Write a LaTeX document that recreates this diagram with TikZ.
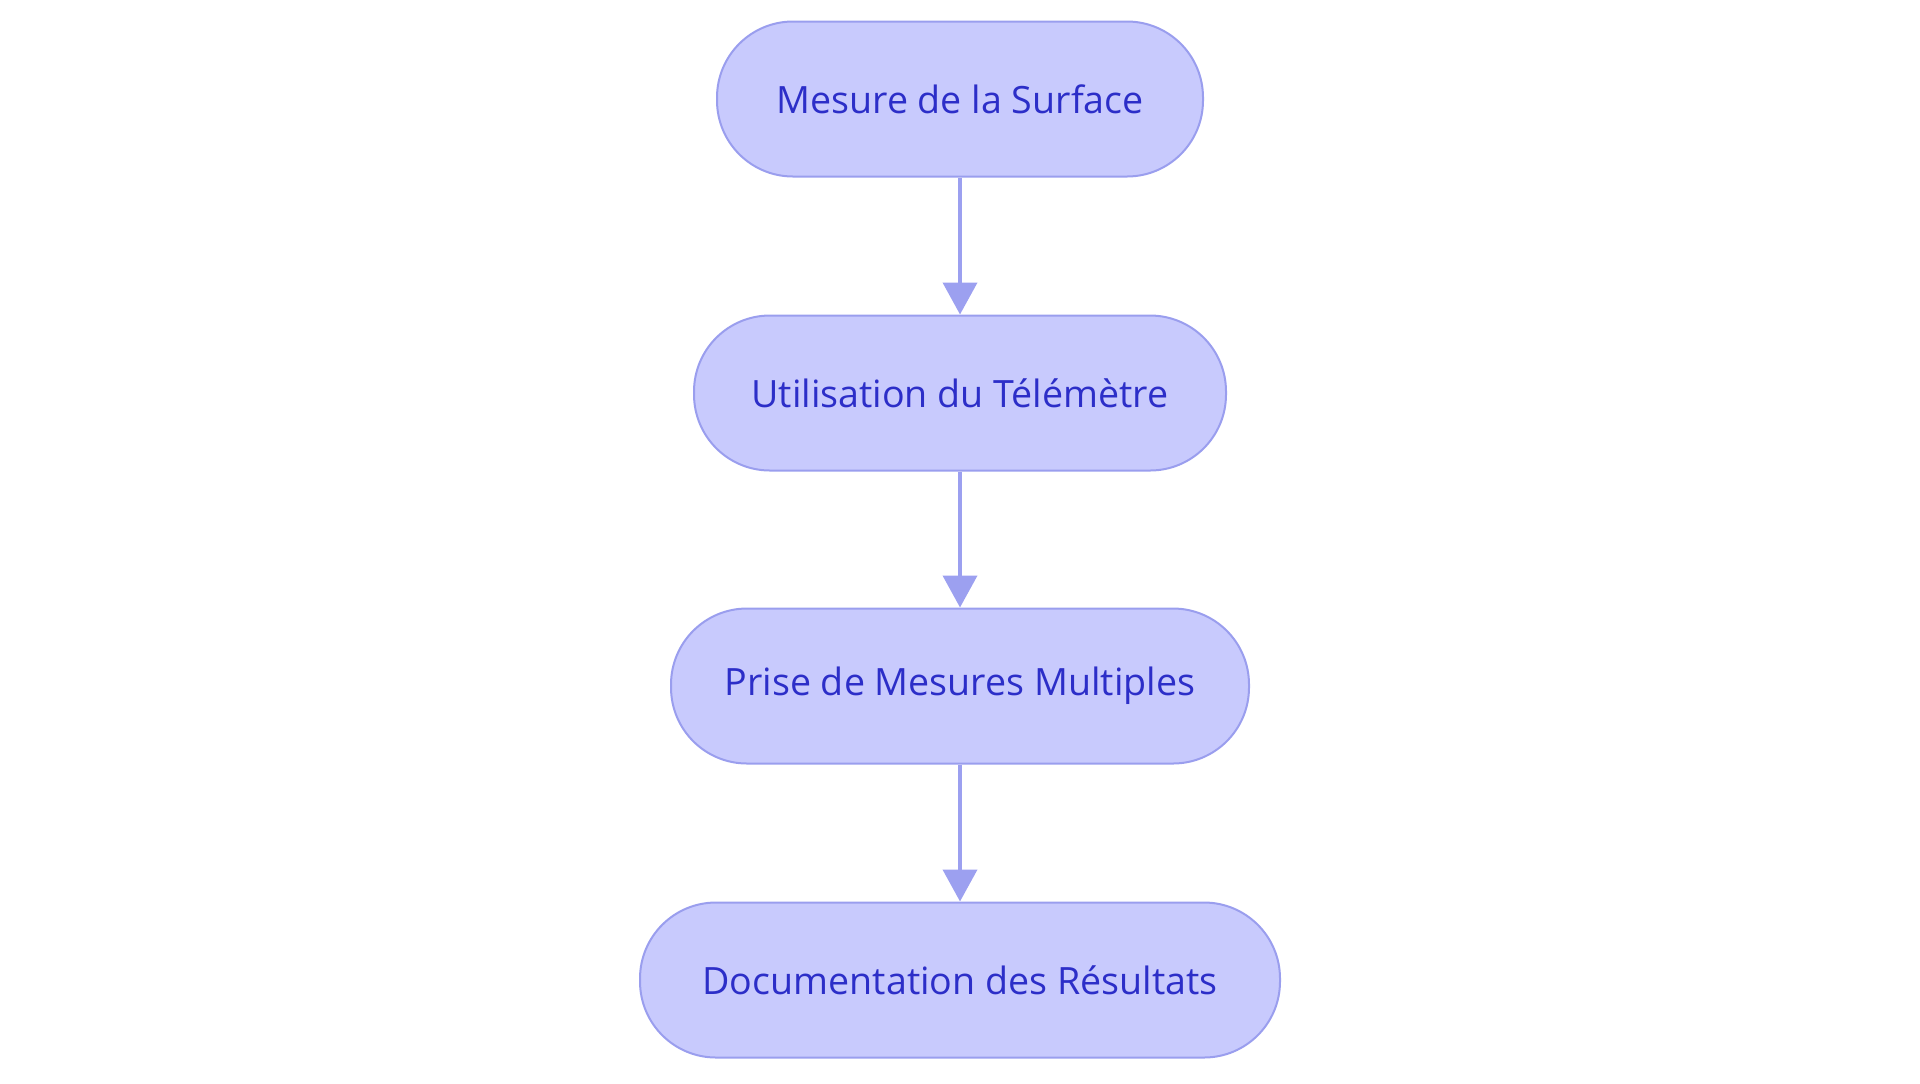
\documentclass[tikz,border=0pt]{standalone}
\usepackage{fontspec}
\setmainfont{Open Sans}
\usetikzlibrary{arrows.meta,positioning}
\definecolor{boxfill}{RGB}{200,202,253}
\definecolor{boxline}{RGB}{154,158,238}
\definecolor{boxtext}{RGB}{44,46,200}
\definecolor{arrowcol}{RGB}{156,160,240}

\begin{document}
\begin{tikzpicture}[x=0.5pt,y=0.5pt,
  etape/.style={draw=boxline,fill=boxfill,line width=1pt,rounded corners=38pt,
    minimum height=77.5pt,inner sep=0pt,text=boxtext,font=\fontsize{18.8}{20}\selectfont},
  fleche/.style={draw=arrowcol,line width=2pt,-{Triangle[length=16pt,width=17pt]}}]
  \useasboundingbox (0,0) rectangle (1920,-1083);
  \node[etape,minimum width=243pt] (surface) at (960,-99) {Mesure de la Surface};
  \node[etape,minimum width=266pt] (telemetre) at (960,-393) {Utilisation du Télémètre};
  \node[etape,minimum width=289pt] (mesures) at (960,-686) {Prise de Mesures Multiples};
  \node[etape,minimum width=320pt] (resultats) at (960,-980) {Documentation des Résultats};
  \draw[fleche] (surface)--(telemetre);
  \draw[fleche] (telemetre)--(mesures);
  \draw[fleche] (mesures)--(resultats);
\end{tikzpicture}
\end{document}
